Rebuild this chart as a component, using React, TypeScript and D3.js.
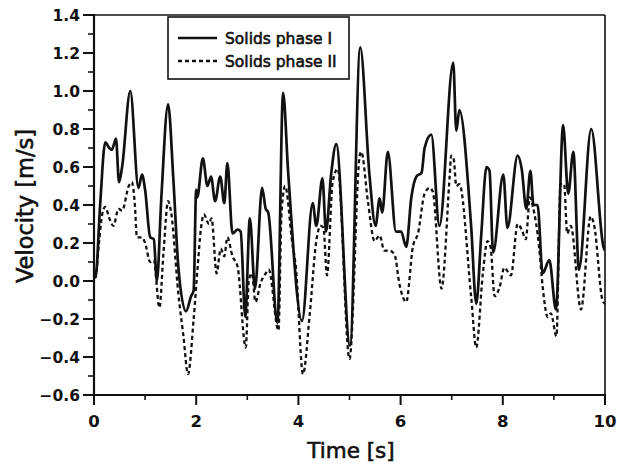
import React from "react";
import * as d3 from "d3";

// Solids phase I (solid line)
const timeI = [0.00,0.03,0.12,0.22,0.30,0.35,0.43,0.49,0.55,0.71,0.87,0.94,1.00,1.10,1.17,1.23,1.32,1.45,1.55,1.65,1.80,1.90,1.95,2.00,2.02,2.13,2.22,2.29,2.37,2.47,2.55,2.61,2.71,2.81,2.87,2.96,3.05,3.15,3.29,3.36,3.41,3.59,3.70,3.80,4.07,4.28,4.35,4.47,4.54,4.64,4.74,5.01,5.21,5.39,5.51,5.59,5.64,5.75,5.91,6.01,6.11,6.21,6.31,6.41,6.47,6.60,6.76,7.03,7.09,7.15,7.38,7.48,7.58,7.68,7.74,7.81,8.01,8.09,8.29,8.37,8.46,8.54,8.60,8.68,8.78,8.91,9.04,9.18,9.28,9.38,9.49,9.73,9.97,10.0];
const velI = [0.02,0.02,0.40,0.73,0.70,0.69,0.75,0.52,0.60,1.00,0.49,0.56,0.48,0.23,0.22,0.00,0.45,0.93,0.55,0.075,-0.16,-0.08,-0.05,0.48,0.44,0.645,0.50,0.55,0.42,0.55,0.41,0.62,0.25,0.27,0.26,-0.19,0.33,-0.04,0.49,0.38,0.36,-0.22,0.99,0.57,-0.21,0.41,0.29,0.54,0.26,0.56,0.72,-0.34,1.23,0.56,0.29,0.435,0.36,0.68,0.26,0.26,0.18,0.44,0.55,0.57,0.70,0.77,0.29,1.15,0.79,0.90,0.29,-0.12,0.25,0.60,0.58,0.15,0.56,0.28,0.66,0.59,0.38,0.58,0.40,0.40,0.04,0.11,-0.15,0.82,0.46,0.68,0.06,0.80,0.18,0.16];

// Solids phase II (dashed line)
const timeII = [0.00,0.03,0.09,0.16,0.22,0.30,0.38,0.48,0.55,0.68,0.74,0.80,0.84,0.94,1.00,1.10,1.17,1.28,1.36,1.45,1.51,1.65,1.75,1.84,1.95,2.03,2.09,2.15,2.25,2.30,2.40,2.48,2.55,2.61,2.71,2.81,2.97,3.03,3.09,3.16,3.26,3.36,3.42,3.61,3.67,3.74,3.88,3.95,4.09,4.22,4.35,4.43,4.49,4.56,4.67,4.77,5.00,5.20,5.23,5.36,5.49,5.59,5.68,5.78,5.88,5.98,6.11,6.24,6.34,6.47,6.57,6.63,6.80,6.96,6.99,7.04,7.09,7.15,7.38,7.48,7.61,7.70,7.76,7.84,7.94,8.03,8.16,8.29,8.37,8.45,8.53,8.59,8.71,8.78,8.88,8.94,9.05,9.13,9.20,9.26,9.33,9.53,9.72,9.79,9.95,10.0];
const velII = [0.02,0.02,0.18,0.35,0.39,0.33,0.29,0.38,0.37,0.50,0.52,0.40,0.23,0.23,0.20,0.10,0.11,-0.14,0.15,0.42,0.36,-0.065,-0.29,-0.49,-0.20,0.08,0.27,0.35,0.30,0.33,0.04,0.17,0.13,0.23,0.13,0.075,-0.35,0.005,0.04,-0.11,-0.01,0.04,0.06,-0.26,0.36,0.50,0.20,0.075,-0.49,-0.18,0.21,0.29,0.28,0.03,0.52,0.59,-0.41,0.66,0.68,0.42,0.21,0.24,0.16,0.16,0.14,-0.02,-0.11,0.18,0.25,0.46,0.49,0.47,-0.04,0.55,0.66,0.64,0.50,0.51,-0.08,-0.35,0.04,0.21,0.18,-0.08,-0.03,0.07,0.03,0.30,0.27,0.22,0.44,0.39,0.18,-0.03,-0.19,-0.17,-0.29,0.51,0.51,0.25,0.29,-0.15,0.34,0.29,-0.10,-0.12];

const yMajor = [-0.6,-0.4,-0.2,0.0,0.2,0.4,0.6,0.8,1.0,1.2,1.4];
const yMinor = [-0.5,-0.3,-0.1,0.1,0.3,0.5,0.7,0.9,1.1,1.3];
const xMajor = [0,2,4,6,8,10];
const xMinor = [1,3,5,7,9];
const seriesNames = ["Solids phase I", "Solids phase II"];

const W = 617, H = 466;
const L = 94, R = 605, T = 15, B = 395;

export default function App() {
  const x = d3.scaleLinear().domain([0, 10]).range([L, R]);
  const y = d3.scaleLinear().domain([-0.6, 1.4]).range([B, T]);
  const line = d3.line<[number, number]>()
    .x(d => x(d[0]))
    .y(d => y(d[1]))
    .curve(d3.curveMonotoneX);
  const d1 = line(timeI.map((t, i) => [t, velI[i]] as [number, number])) || "";
  const d2 = line(timeII.map((t, i) => [t, velII[i]] as [number, number])) || "";
  const fmt = (v: number) => v.toFixed(1).replace("-", "\u2212");
  const tickFont = "DejaVu Sans, sans-serif";

  return (
    <svg width={W} height={H} style={{ position: "absolute", left: 0, top: 0, background: "#fff" }}>
      <rect x={0} y={0} width={W} height={H} fill="#fff" />
      <defs>
        <clipPath id="plotclip">
          <rect x={L} y={T} width={R - L} height={B - T} />
        </clipPath>
      </defs>
      <g clipPath="url(#plotclip)">
        <path d={d2} fill="none" stroke="#111" strokeWidth={2.3} strokeDasharray="4,3" />
        <path d={d1} fill="none" stroke="#111" strokeWidth={2.7} strokeLinejoin="round" />
      </g>
      {/* frame */}
      <line x1={L} y1={T} x2={R} y2={T} stroke="#111" strokeWidth={1.6} />
      <line x1={R} y1={T} x2={R} y2={B} stroke="#111" strokeWidth={1.6} />
      <line x1={L} y1={T - 1} x2={L} y2={B + 1} stroke="#111" strokeWidth={2.2} />
      <line x1={L - 1} y1={B} x2={R + 1} y2={B} stroke="#111" strokeWidth={2.2} />
      {/* y ticks */}
      {yMajor.map(v => (
        <g key={"ym" + v}>
          <line x1={L - 11} x2={L} y1={y(v)} y2={y(v)} stroke="#111" strokeWidth={2} />
          <text x={80} y={y(v)} dy="0.36em" textAnchor="end" fontFamily={tickFont} fontWeight="bold" fontSize={15.5} fill="#111">{fmt(v)}</text>
        </g>
      ))}
      {yMinor.map(v => (
        <line key={"yn" + v} x1={L - 6} x2={L} y1={y(v)} y2={y(v)} stroke="#111" strokeWidth={1.6} />
      ))}
      {/* x ticks */}
      {xMajor.map(v => (
        <g key={"xm" + v}>
          <line x1={x(v)} x2={x(v)} y1={B} y2={B + 10} stroke="#111" strokeWidth={2} />
          <text x={x(v)} y={427} textAnchor="middle" fontFamily={tickFont} fontWeight="bold" fontSize={16.5} fill="#111">{v}</text>
        </g>
      ))}
      {xMinor.map(v => (
        <line key={"xn" + v} x1={x(v)} x2={x(v)} y1={B} y2={B + 5} stroke="#111" strokeWidth={1.6} />
      ))}
      {/* axis titles */}
      <text x={351} y={458} textAnchor="middle" fontFamily={tickFont} fontSize={21.5} fill="#111" stroke="#111" strokeWidth={0.6}>Time [s]</text>
      <text transform="translate(33,206) rotate(-90)" textAnchor="middle" fontFamily={tickFont} fontSize={22.5} fill="#111" stroke="#111" strokeWidth={0.6}>Velocity [m/s]</text>
      {/* legend */}
      <rect x={168} y={17} width={181} height={62} fill="#fff" stroke="#111" strokeWidth={1.6} />
      <line x1={178} x2={217} y1={38} y2={38} stroke="#111" strokeWidth={2.7} />
      <line x1={178} x2={217} y1={61} y2={61} stroke="#111" strokeWidth={2.3} strokeDasharray="4,3" />
      <text x={225} y={44} fontFamily={tickFont} fontSize={15.5} fill="#111" stroke="#111" strokeWidth={0.6}>{seriesNames[0]}</text>
      <text x={225} y={67} fontFamily={tickFont} fontSize={15.5} fill="#111" stroke="#111" strokeWidth={0.6}>{seriesNames[1]}</text>
    </svg>
  );
}
